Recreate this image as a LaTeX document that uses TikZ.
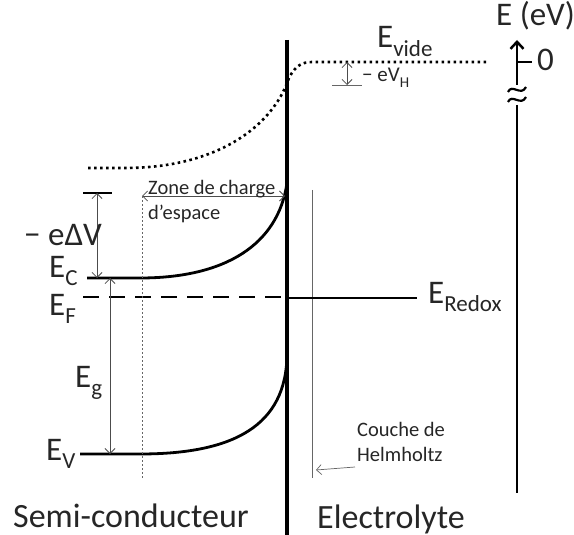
\documentclass[tikz,border=0pt]{standalone}
\usepackage{fontspec}
\setmainfont{Carlito}
\usetikzlibrary{arrows.meta}
\newcommand{\Esub}[2]{#1\raisebox{-0.25em}{\fontsize{23}{23}\selectfont #2}}

\begin{document}
\begin{tikzpicture}[x=1pt, y=-1pt, every node/.style={inner sep=0pt, text=black!85}]
\tikzset{band/.style={line width=2.8pt}}
\tikzset{vac/.style={line width=2.6pt, dash pattern=on 2.6pt off 3.4pt}}
\tikzset{fine/.style={line width=0.7pt, black!60}}
\tikzset{dim/.style={line width=0.8pt, black!70, {Straight Barb[length=5pt,width=10pt]}-{Straight Barb[length=5pt,width=10pt]}}}
\tikzset{big/.style={font=\fontsize{33}{36}\selectfont, anchor=base west}}
\tikzset{small/.style={font=\fontsize{20.5}{24}\selectfont, anchor=base west, align=left}}
\useasboundingbox (0,0) rectangle (574,535);

% interface and Helmholtz plane
\coordinate (itop) at (287,40);
\coordinate (ibot) at (287,535);
\draw[line width=3.5pt] (itop) -- (ibot);
\coordinate (htop) at (312,190);
\coordinate (hbot) at (312,478);
\draw[fine] (htop) -- (hbot);

% vacuum level
\draw[vac] (88,168) -- (125,168) .. controls (215,168) and (272,128) .. (289,78)
  .. controls (295,66) and (302,62) .. (312,62) -- (488,62);
\node[big] (vide) at (377,48) {\Esub{E}{vide}};
\draw[dim] (347,62) -- (347,85);
\draw[fine] (332,85) -- (362,85);
\node[small, font=\fontsize{21}{24}\selectfont] (vh) at (362,82) {− eV\raisebox{-0.25em}{\fontsize{15}{15}\selectfont H}};

% bands
\coordinate (ec) at (87,278);
\coordinate (ecs) at (287,183);
\draw[band] (ec) -- (140,278) .. controls (225,278) and (278,245) .. (ecs);
\coordinate (ev) at (80,454);
\coordinate (evs) at (287,355);
\draw[band] (ev) -- (140,454) .. controls (235,454) and (286,425) .. (evs);
\draw[line width=2.8pt, dash pattern=on 16pt off 10pt] (83,297) -- (287,297);
\coordinate (redox) at (417,298);
\draw[band] (287,298) -- (redox);

% band bending
\draw[line width=2.8pt] (83,193) -- (112,193);
\draw[dim] (97,193) -- (97,278);
\draw[dim] (110,278) -- (110,454);
\draw[dim] (142,196) -- (285,196);
\draw[fine, dash pattern=on 2pt off 2pt] (142,196) -- (142,478);

\node[big] (dv) at (24,245) {− eΔV};
\node[big] (lc) at (49,277) {\Esub{E}{C}};
\node[big] (lf) at (49,315) {\Esub{E}{F}};
\node[big] (lg) at (75,387) {\Esub{E}{g}};
\node[big] (lv) at (46,460) {\Esub{E}{V}};
\node[big] (lr) at (428,303) {\Esub{E}{Redox}};
\node[small] (zce) at (148,219) {Zone de charge\\[1pt]d’espace};
\node[small] (helm) at (357,461) {Couche de\\[1pt]Helmholtz};
\draw[fine, -{Straight Barb[length=5pt,width=10pt]}] (355,467) -- (316,470);

% energy axis
\draw[line width=2.5pt, -{Straight Barb[length=7pt,width=13pt]}] (517,85) -- (517,40);
\draw[line width=2.5pt] (517,105) -- (517,493);
\draw[line width=2.5pt] (517,62) -- (532,62);
\draw[line width=2.2pt] (508,92) .. controls (512,83) and (521,97) .. (526,87);
\draw[line width=2.2pt] (508,102) .. controls (512,93) and (521,107) .. (526,97);
\node[big] (zero) at (537,71) {0};
\node[big] (eaxis) at (496,26) {E (eV)};

\node[big, font=\fontsize{34}{36}\selectfont] (sc) at (13,527) {Semi-conducteur};
\node[big, font=\fontsize{34}{36}\selectfont] (el) at (317,528) {Electrolyte};
\end{tikzpicture}
\end{document}
